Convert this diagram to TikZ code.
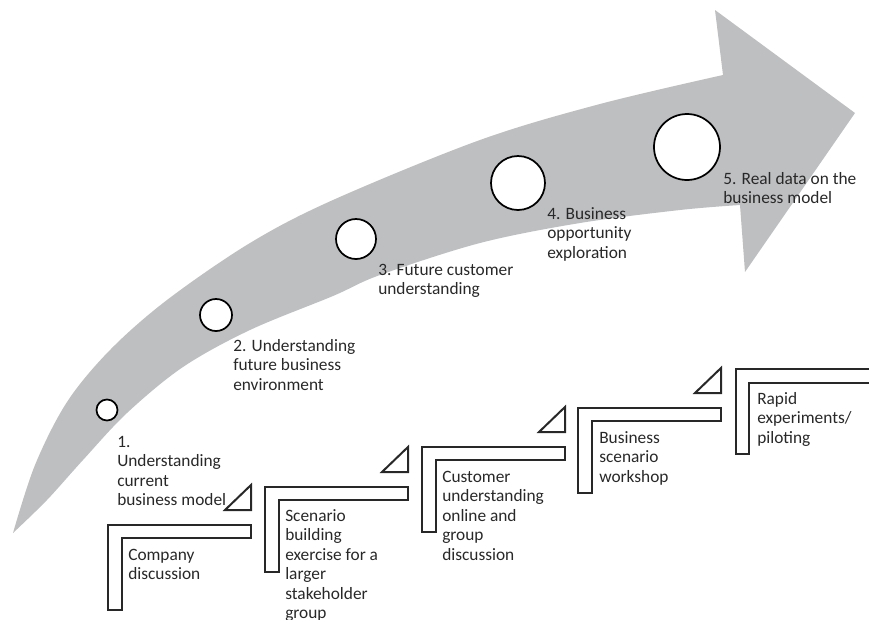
\documentclass[tikz,border=0pt]{standalone}
\usepackage{fontspec}
\setmainfont{Carlito}
\definecolor{arrowgray}{RGB}{190,191,193}
\definecolor{ink}{RGB}{40,40,40}
\begin{document}
\begin{tikzpicture}[x=0.75pt,y=-0.75pt,
  lbl/.style={anchor=north west, inner sep=0pt, align=left, font=\fontsize{13}{14.6}\selectfont, text=ink},
  stepbar/.style={draw=ink, line width=1.5pt, fill=white, line join=miter},
  tri/.style={draw=ink, line width=1.5pt, fill=white, line join=miter},
  ms/.style={circle, draw=black, line width=1.3pt, fill=white, inner sep=0pt}]
\useasboundingbox (0,0) rectangle (869,619);
% big curved arrow
\fill[arrowgray] plot[smooth, tension=0.55] coordinates {(13,533) (35,465) (67,402) (110,350) (167,300) (250,243) (333,200) (480,140) (600,104) (723,75)}
  -- (715,10) -- (855,113) -- (745,272) -- (740,205)
  -- plot[smooth, tension=0.55] coordinates {(740,205) (680,210) (580,223) (480,243) (380,275) (333,296) (250,330) (183,367) (127,413) (83,460) (47,500) (13,533)} -- cycle;
% milestones
\node[ms, minimum size=15.75pt] (c1) at (107,410) {};
\node[ms, minimum size=24pt] (c2) at (216,315) {};
\node[ms, minimum size=30pt] (c3) at (356,239) {};
\node[ms, minimum size=40.5pt] (c4) at (518,183) {};
\node[ms, minimum size=49.5pt] (c5) at (687,147) {};
% milestone labels
\node[lbl] (l1) at (117,436) {1.\\Understanding\\current\\business model};
\node[lbl] (l2) at (233,339) {2. Understanding\\future business\\environment};
\node[lbl] (l3) at (378,264) {3. Future customer\\understanding};
\node[lbl] (l4) at (547,207) {4. Business\\opportunity\\exploration};
\node[lbl] (l5) at (723,172) {5. Real data on the\\business model};
% steps
\foreach \ox/\oy in {108/525, 265/487, 422/447, 578/408}{
  \draw[stepbar] (\ox,\oy) -- ++(143,0) -- ++(0,13) -- ++(-129,0) -- ++(0,72) -- ++(-14,0) -- cycle;
  \draw[tri] (\ox+117,\oy-15) -- (\ox+143,\oy-40) -- (\ox+143,\oy-15) -- cycle;
}
\draw[stepbar] (736,369) -- (876,369) -- (876,383) -- (749,383) -- (749,454) -- (736,454) -- cycle;
% step texts
\node[lbl] (s1) at (128,549) {Company\\discussion};
\node[lbl] (s2) at (285,509) {Scenario\\building\\exercise for a\\larger\\stakeholder\\group};
\node[lbl] (s3) at (442,471) {Customer\\understanding\\online and\\group\\discussion};
\node[lbl] (s4) at (599,431) {Business\\scenario\\workshop};
\node[lbl] (s5) at (757,392) {Rapid\\experiments/\\piloting};
\end{tikzpicture}
\end{document}
